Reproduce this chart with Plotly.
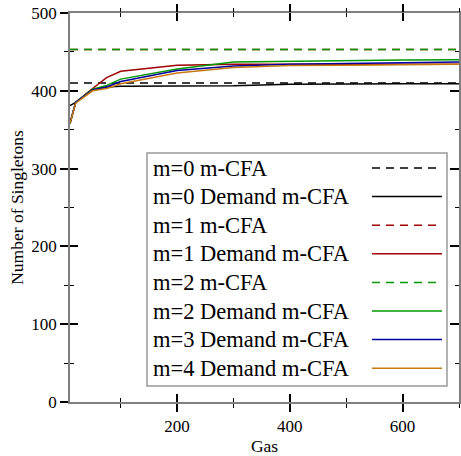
import plotly.graph_objects as go

# ---------------- data ----------------
gas = [10, 20, 50, 75, 100, 200, 300, 400, 500, 600, 700]

m0_cfa = 410
m1_cfa = 453
m2_cfa = 453

m0_demand = [381, 385, 401, 405, 406, 406, 406.5, 408.5, 409, 409, 409]
m1_demand = [358, 385, 403, 417, 425, 433, 434, 434, 434, 434, 434]
m2_demand = [358, 385, 402, 407, 415, 428, 437, 438, 439, 439.5, 440]
m3_demand = [358, 385, 401, 405, 412, 426, 432, 434, 435, 436, 437]
m4_demand = [358, 384, 400, 403, 409, 423, 430, 432.5, 433, 433.5, 434]

legend_labels = ["m=0 m-CFA", "m=0 Demand m-CFA", "m=1 m-CFA", "m=1 Demand m-CFA",
                 "m=2 m-CFA", "m=2 Demand m-CFA", "m=3 Demand m-CFA", "m=4 Demand m-CFA"]

x_title = "Gas"
y_title = "Number of Singletons"

# ---------------- styles ----------------
BLACK = "#000000"
RED = "#a00000"
GREEN = "#009900"
BLUE = "#0000a0"
ORANGE = "#c87a10"
DASH = "8px,6px"
LW = 1.5
FONT = "Liberation Serif, Times New Roman, Times, DejaVu Serif, serif"
TICK_FS = 17
TITLE_FS = 17.5
LEG_FS = 22.5

series = [
    (legend_labels[0], [m0_cfa, m0_cfa], [gas[0], gas[-1]], BLACK, DASH),
    (legend_labels[1], m0_demand, gas, BLACK, "solid"),
    (legend_labels[2], [m1_cfa, m1_cfa], [gas[0], gas[-1]], RED, DASH),
    (legend_labels[3], m1_demand, gas, RED, "solid"),
    (legend_labels[4], [m2_cfa, m2_cfa], [gas[0], gas[-1]], GREEN, DASH),
    (legend_labels[5], m2_demand, gas, GREEN, "solid"),
    (legend_labels[6], m3_demand, gas, BLUE, "solid"),
    (legend_labels[7], m4_demand, gas, ORANGE, "solid"),
]

fig = go.Figure()
for name, ys, xs, col, dash in series:
    fig.add_trace(go.Scatter(x=xs, y=ys, mode="lines", name=name, showlegend=False,
                             line=dict(color=col, width=LW, dash=dash)))

# empty helper traces so the overlaid tick axes are drawn
fig.add_trace(go.Scatter(x=[], y=[], xaxis="x2", yaxis="y2", showlegend=False, hoverinfo="skip"))
fig.add_trace(go.Scatter(x=[], y=[], xaxis="x3", yaxis="y3", showlegend=False, hoverinfo="skip"))
fig.add_trace(go.Scatter(x=[], y=[], xaxis="x4", yaxis="y", showlegend=False, hoverinfo="skip"))

XR = [10, 700]
YR = [0, 500]
TICKC = "#000000"
AXC = "#808080"

def xax(side, ticks, labels, line, overlay):
    d = dict(range=XR, side=side, ticks=ticks, ticklen=8, tickwidth=1.5, tickcolor=TICKC,
             tick0=0, dtick=200, showgrid=False, zeroline=False, automargin=False,
             minor=dict(dtick=100, tick0=0, ticks=ticks, ticklen=4, tickwidth=1.2, tickcolor=TICKC, showgrid=False),
             showticklabels=labels, showline=line, linecolor=AXC, linewidth=1.5,
             tickfont=dict(family=FONT, size=TICK_FS, color="#000"), fixedrange=True)
    if line:
        d["mirror"] = True
    if overlay:
        d["overlaying"] = "x"
        d["anchor"] = "y"
    return d

def yax(side, ticks, labels, line, overlay, tl=8):
    d = dict(range=YR, side=side, ticks=ticks, ticklen=tl, tickwidth=1.5, tickcolor=TICKC,
             tick0=0, dtick=100, showgrid=False, zeroline=False, automargin=False,
             minor=dict(dtick=50, tick0=0, ticks=ticks, ticklen=4, tickwidth=1.2, tickcolor=TICKC, showgrid=False),
             showticklabels=labels, showline=line, linecolor=AXC, linewidth=1.5,
             tickfont=dict(family=FONT, size=TICK_FS, color="#000"), fixedrange=True)
    if line:
        d["mirror"] = True
    if overlay:
        d["overlaying"] = "y"
        d["anchor"] = "x"
    return d

xa = xax("bottom", "outside", True, True, False)
xa["title"] = dict(text=x_title, font=dict(family=FONT, size=TITLE_FS, color="#000"), standoff=3)
ya = yax("left", "outside", True, True, False)
ya["title"] = dict(text=y_title, font=dict(family=FONT, size=TITLE_FS, color="#000"), standoff=3)

fig.update_layout(
    width=461, height=456,
    margin=dict(l=70, r=2, t=13, b=54, autoexpand=False),
    paper_bgcolor="white", plot_bgcolor="white",
    font=dict(family=FONT, size=TICK_FS, color="#000"),
    showlegend=False,
    xaxis=xa,
    xaxis2=xax("bottom", "inside", False, False, True),
    xaxis3=xax("top", "inside", False, False, True),
    xaxis4=xax("top", "outside", False, False, True),
    yaxis=ya,
    yaxis2=yax("left", "inside", False, False, True),
    yaxis3=yax("right", "inside", False, False, True, tl=9),
)

# ---------------- manual legend (text left, line sample right) ----------------
W = 389.0
H = 389.0
def px(x):
    return (x - 70) / W
def py(y):
    return (402 - y) / H

fig.add_shape(type="rect", xref="paper", yref="paper",
              x0=px(147), x1=px(447), y0=py(386), y1=py(153),
              line=dict(color="#999999", width=1.5), fillcolor="white", layer="above")

row0 = 168.0
step = 28.6
for i, (name, ys, xs, col, dash) in enumerate(series):
    yy = row0 + i * step
    fig.add_annotation(xref="paper", yref="paper", x=px(151), y=py(yy), text=name,
                       showarrow=False, xanchor="left", yanchor="middle",
                       font=dict(family=FONT, size=LEG_FS, color="#000"))
    fig.add_shape(type="line", xref="paper", yref="paper",
                  x0=px(372), x1=px(442), y0=py(yy), y1=py(yy),
                  line=dict(color=col, width=LW, dash=dash), layer="above")

fig.write_html("out.html", config={"displayModeBar": False},
               post_script="document.body.style.margin='0';document.body.style.padding='0';")
